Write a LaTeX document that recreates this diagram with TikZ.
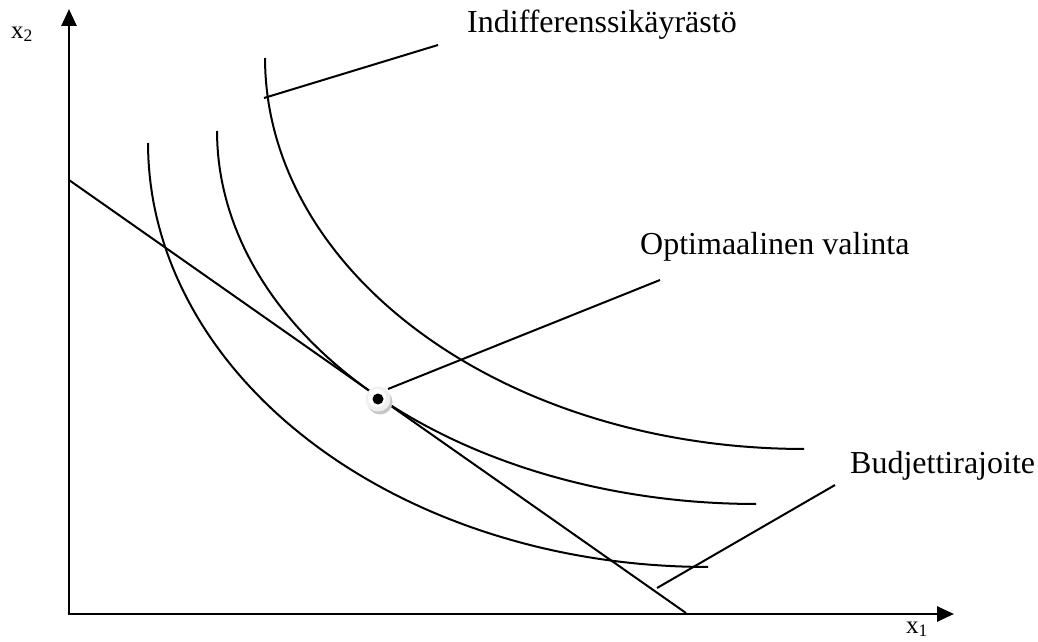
\documentclass[tikz,border=0pt]{standalone}
\usepackage{fontspec}
\setmainfont{Liberation Serif}
\usetikzlibrary{arrows.meta}
\begin{document}
\begin{tikzpicture}[x=1pt,y=-1pt,
  axis/.style={line width=2.6pt,-{Triangle[length=17pt,width=15pt]}},
  curve/.style={line width=2pt},
  pointer/.style={line width=2pt},
  lbl/.style={anchor=base west,inner sep=0pt,font=\fontsize{32}{34}\selectfont},
  axlbl/.style={anchor=base west,inner sep=0pt,font=\fontsize{25}{27}\selectfont}]
\useasboundingbox (0,0) rectangle (1038,642);
% axes
\coordinate (O) at (69,614);
\coordinate (ytip) at (69,9);
\coordinate (xtip) at (954,614);
\draw[axis] (O) -- (ytip);
\draw[axis] ([xshift=-1.3pt]O) -- (xtip);
\node[axlbl] (x2) at (11,38) {x\textsubscript{2}};
\node[axlbl] (x1) at (906,633) {x\textsubscript{1}};
% indifference curves (quarter ellipses)
\draw[curve] plot[domain=180:90,samples=80,variable=\t] ({708+560*cos(\t)},{143+424*sin(\t)});
\draw[curve] plot[domain=180:90,samples=80,variable=\t] ({756+539*cos(\t)},{131+373*sin(\t)});
\draw[curve] plot[domain=180:90,samples=80,variable=\t] ({804+539*cos(\t)},{58+391*sin(\t)});
% budget line
\coordinate (bA) at (69,180);
\coordinate (bB) at (686,613);
\draw[curve] (bA) -- (bB);
% optimum point
\coordinate (opt) at (378,399);
\fill[gray!45] ([shift={(2,3)}]opt) circle (12.5);
\fill[gray!12] (opt) circle (12.5);
\fill[white] ([shift={(-1,-1)}]opt) circle (9);
\fill[black] (opt) circle (5.5);
% labels
\node[lbl] (ind) at (467,33) {Indifferenssikäyrästö};
\node[lbl] (optl) at (640,254) {Optimaalinen valinta};
\node[lbl] (bud) at (850,473) {Budjettirajoite};
% pointers
\coordinate (p1a) at (264,98);
\coordinate (p1b) at (438,45);
\draw[pointer] (p1a) -- (p1b);
\coordinate (p2a) at (388,389);
\coordinate (p2b) at (660,280);
\draw[pointer] (p2a) -- (p2b);
\coordinate (p3a) at (657,588);
\coordinate (p3b) at (835,485);
\draw[pointer] (p3a) -- (p3b);
\end{tikzpicture}
\end{document}
